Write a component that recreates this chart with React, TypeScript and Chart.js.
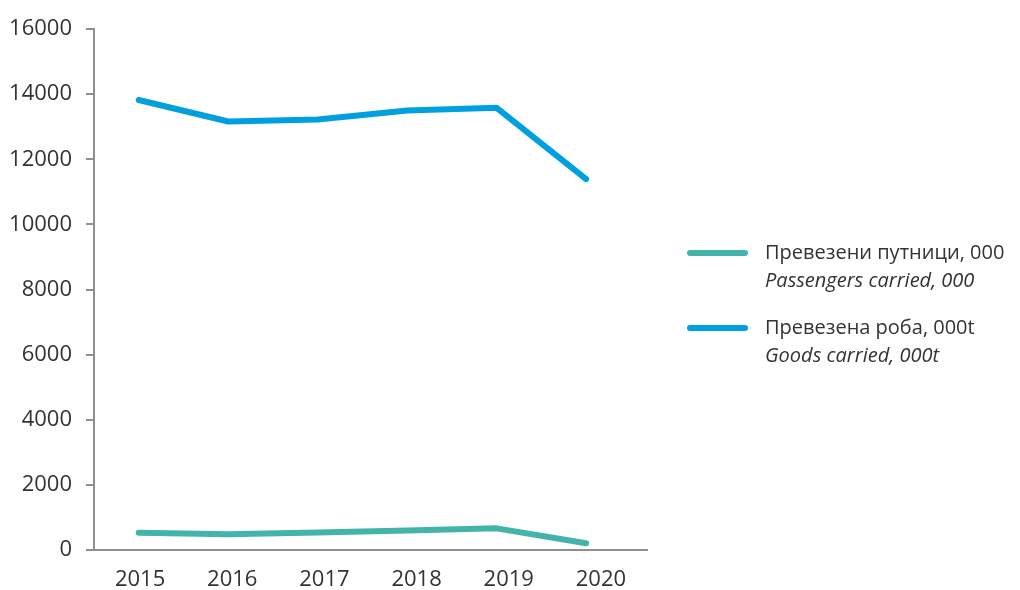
import React, { useEffect, useRef } from "react";
import { Chart, registerables } from "chart.js";

Chart.register(...registerables);

const years = ["2015", "2016", "2017", "2018", "2019", "2020"];
const passengers = [530, 480, 535, 600, 665, 205];
const goods = [13820, 13160, 13220, 13500, 13580, 11390];
const labelsMk = ["Превезени путници, 000", "Превезена роба, 000t"];
const labelsEn = ["Passengers carried, 000", "Goods carried, 000t"];
const colors = ["#44B3A9", "#00A0DF"];
const yTicks = [0, 2000, 4000, 6000, 8000, 10000, 12000, 14000, 16000];

const FONT = "'Open Sans', 'Noto Sans', sans-serif";
const TEXT = "#333333";
const AXIS = "#8f8f8f";

const legendPlugin = {
  id: "twoLineLegend",
  afterDraw(chart: any) {
    const ctx = chart.ctx;
    const rows = [253, 328];
    chart.data.datasets.forEach((ds: any, i: number) => {
      const y = rows[i];
      ctx.save();
      ctx.strokeStyle = ds.borderColor;
      ctx.lineWidth = 6;
      ctx.lineCap = "round";
      ctx.beginPath();
      ctx.moveTo(690, y);
      ctx.lineTo(745, y);
      ctx.stroke();
      ctx.fillStyle = TEXT;
      ctx.textBaseline = "middle";
      ctx.textAlign = "left";
      ctx.font = `20px ${FONT}`;
      ctx.fillText(labelsMk[i], 765, y);
      ctx.font = `italic 20px ${FONT}`;
      ctx.fillText(labelsEn[i], 765, y + 28);
      ctx.restore();
    });
  },
};

export default function App() {
  const ref = useRef<HTMLCanvasElement | null>(null);
  useEffect(() => {
    if (!ref.current) return;
    const toPts = (vals: number[]) => years.map((yr, i) => ({ x: Number(yr), y: vals[i] }));
    const chart = new Chart(ref.current, {
      type: "line",
      data: {
        labels: years,
        datasets: [
          {
            label: labelsMk[0],
            data: toPts(passengers),
            xAxisID: "xd",
            borderColor: colors[0],
            backgroundColor: colors[0],
            borderWidth: 6,
            borderCapStyle: "round",
            borderJoinStyle: "round",
            pointRadius: 0,
            tension: 0,
          },
          {
            label: labelsMk[1],
            data: toPts(goods),
            xAxisID: "xd",
            borderColor: colors[1],
            backgroundColor: colors[1],
            borderWidth: 6,
            borderCapStyle: "round",
            borderJoinStyle: "round",
            pointRadius: 0,
            tension: 0,
          },
        ],
      },
      options: {
        animation: false,
        responsive: false,
        maintainAspectRatio: false,
        layout: { padding: { left: 0, right: 373, top: 29, bottom: 0 } },
        plugins: { legend: { display: false }, tooltip: { enabled: false } },
        scales: {
          x: {
            type: "category",
            offset: true,
            grid: { display: false, drawTicks: false },
            border: { display: true, color: AXIS, width: 2 },
            ticks: { color: TEXT, font: { family: FONT, size: 22 }, padding: 17, maxRotation: 0 },
            afterFit: (s: any) => { s.height = 40; },
          },
          xd: {
            type: "linear",
            display: false,
            min: 2014.5,
            max: 2020.68,
          },
          y: {
            min: 0,
            max: 16000,
            afterBuildTicks: (s: any) => { s.ticks = yTicks.map((v) => ({ value: v })); },
            grid: { display: true, drawOnChartArea: false, drawTicks: true, tickLength: 8, color: AXIS, lineWidth: 2 },
            border: { display: true, color: AXIS, width: 2 },
            ticks: { color: TEXT, font: { family: FONT, size: 22 }, padding: 14, callback: (v: any) => String(v) },
            afterFit: (s: any) => { s.width = 94; },
          },
        },
      },
      plugins: [legendPlugin],
    } as any);
    return () => chart.destroy();
  }, []);
  return (
    <div style={{ position: "absolute", left: 0, top: 0, width: 1020, height: 590, background: "#fff" }}>
      <canvas ref={ref} width={1020} height={590} style={{ display: "block" }} />
    </div>
  );
}
